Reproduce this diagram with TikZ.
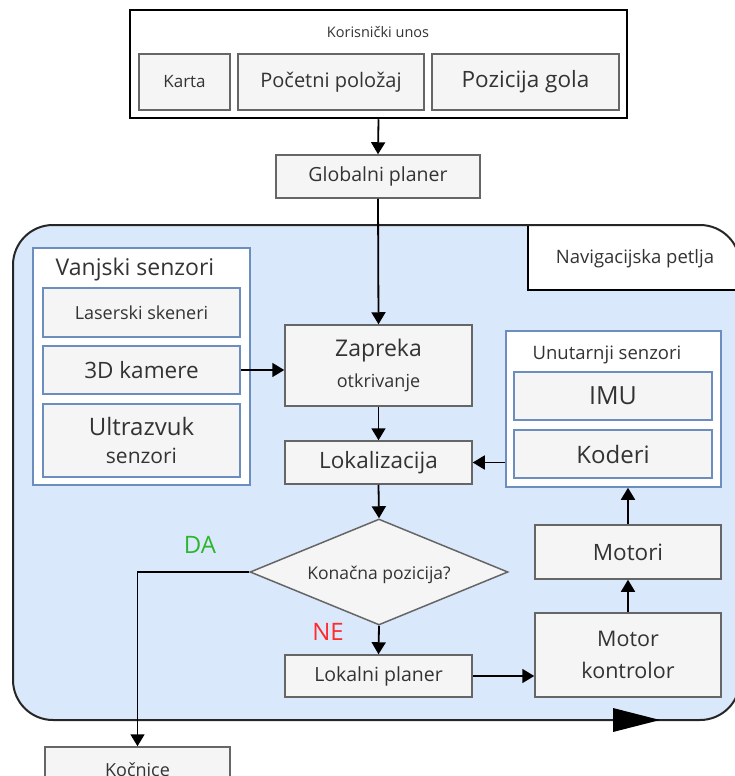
\documentclass[tikz,border=0pt]{standalone}
\usepackage{fontspec}
\setmainfont{Open Sans}
\usetikzlibrary{arrows.meta,shapes.geometric}
\definecolor{loopfill}{HTML}{DAE8FC}
\definecolor{bluebd}{HTML}{6C8EBF}
\definecolor{grayfill}{HTML}{F5F5F5}
\definecolor{graybd}{HTML}{666666}
\definecolor{txt}{HTML}{333333}
\definecolor{dagreen}{HTML}{2DB52D}
\definecolor{nered}{HTML}{FF2A2A}
\newcommand{\fs}[1]{\fontsize{#1}{#1}\selectfont}
\tikzset{
  gbox/.style={draw=graybd, fill=grayfill, line width=1.5pt, inner sep=0pt, text=txt, align=center},
  sbox/.style={draw=bluebd, fill=grayfill, line width=1.5pt, inner sep=0pt, text=txt, align=center},
  cont/.style={draw=bluebd, fill=white, line width=1.5pt, inner sep=0pt},
  lbl/.style={inner sep=0pt, text=txt, align=center},
  arr/.style={line width=1.8pt, -{Triangle[length=12pt,width=14pt]}},
}
\begin{document}
\begin{tikzpicture}[x=1pt,y=-1pt]
\useasboundingbox (0,0) rectangle (734,776);
% Korisnicki unos
\node[draw=black, fill=white, line width=2.5pt, minimum width=497pt, minimum height=108pt, inner sep=0pt] (top) at (378.5,64) {};
\node[lbl, font=\fs{14.5}] (kt) at (378,32) {Korisnički unos};
\node[gbox, minimum width=91pt, minimum height=56pt, font=\fs{17}] (karta) at (184.5,82) {Karta};
\node[gbox, minimum width=186pt, minimum height=56pt, font=\fs{20}] (poc) at (331,82) {Početni položaj};
\node[gbox, minimum width=187pt, minimum height=56pt, font=\fs{22.5}] (poz) at (525.5,82) {Pozicija gola};
\node[gbox, minimum width=204pt, minimum height=43pt, font=\fs{19.5}] (glob) at (378,176.5) {Globalni planer};
% Navigation loop
\path[fill=loopfill] (13,225) [rounded corners=40pt] rectangle (740,720);
\begin{scope}
\clip (13,225) [rounded corners=40pt] rectangle (740,720);
\node[draw=black, fill=white, line width=2pt, minimum width=212pt, minimum height=65pt, inner sep=0pt] (nav) at (634,257.5) {};
\end{scope}
\draw[line width=2pt, draw=black!85] (13,225) [rounded corners=40pt] rectangle (740,720);
\node[lbl, font=\fs{18.5}] (navt) at (635,259) {Navigacijska petlja};
\fill[black] (613,708) -- (660,720) -- (613,732) -- cycle;
% Vanjski senzori
\node[cont, minimum width=217pt, minimum height=237pt] (vanj) at (141.5,366.5) {};
\node[lbl, font=\fs{23}] (vanjt) at (135,270) {Vanjski senzori};
\node[sbox, minimum width=197pt, minimum height=49pt, font=\fs{18}] (laser) at (141.5,312.5) {Laserski skeneri};
\node[sbox, minimum width=197pt, minimum height=48pt, font=\fs{22.5}] (kam) at (141.5,370) {3D kamere};
\node[sbox, minimum width=197pt, minimum height=73pt] (ultra) at (141.5,440.5) {{\fs{24}Ultrazvuk}\\[11pt]{\fs{21}senzori}};
% Centre column
\node[gbox, minimum width=187pt, minimum height=81pt] (zap) at (378.5,365.5) {{\fs{23}Zapreka}\\[10pt]{\fs{18}otkrivanje}};
\node[gbox, minimum width=187pt, minimum height=43pt, font=\fs{22.5}] (lok) at (378.5,462.5) {Lokalizacija};
\node[gbox, diamond, aspect=2.434, minimum width=258pt, minimum height=106pt] (dia) at (379,572) {};
\node[lbl, font=\fs{17.5}] (diat) at (379,575) {Konačna pozicija?};
\node[gbox, minimum width=187pt, minimum height=42pt, font=\fs{19.5}] (lokp) at (378.5,676) {Lokalni planer};
\node[lbl, text=dagreen, font=\fs{24}] (da) at (200,545) {DA};
\node[lbl, text=nered, font=\fs{24}] (ne) at (328,632) {NE};
% Unutarnji senzori
\node[cont, minimum width=215pt, minimum height=156pt] (unut) at (613.5,409) {};
\node[lbl, font=\fs{18.5}] (unutt) at (607,355) {Unutarnji senzori};
\node[sbox, minimum width=198pt, minimum height=48pt, font=\fs{25}] (imu) at (613,396) {IMU};
\node[sbox, minimum width=198pt, minimum height=48pt, font=\fs{24}] (kod) at (613,454) {Koderi};
\node[gbox, minimum width=186pt, minimum height=54pt, font=\fs{22.5}] (motori) at (628,552) {Motori};
\node[gbox, minimum width=186pt, minimum height=84pt, font=\fs{21.5}] (motk) at (628,655) {Motor\\[10pt]kontrolor};
% Kocnice
\node[gbox, minimum width=185pt, minimum height=45pt, font=\fs{18}] (koc) at (137.5,769.5) {Kočnice};
% Connectors
\draw[arr] (top.south) -- (glob.north);
\draw[arr] (glob.south) -- (zap.north);
\draw[arr] (kam.east) -- (kam.east -| zap.west);
\draw[arr] (zap.south) -- (lok.north);
\draw[arr] (unut.west |- lok.east) -- (lok.east);
\draw[arr] (lok.south) -- (dia.north);
\draw[arr] (dia.west) -| (koc.north);
\draw[arr] (dia.south) -- (lokp.north);
\draw[arr] (lokp.east) -- (lokp.east -| motk.west);
\draw[arr] (motk.north) -- (motori.south);
\draw[arr] (motori.north) -- (motori.north |- unut.south);
\end{tikzpicture}
\end{document}
